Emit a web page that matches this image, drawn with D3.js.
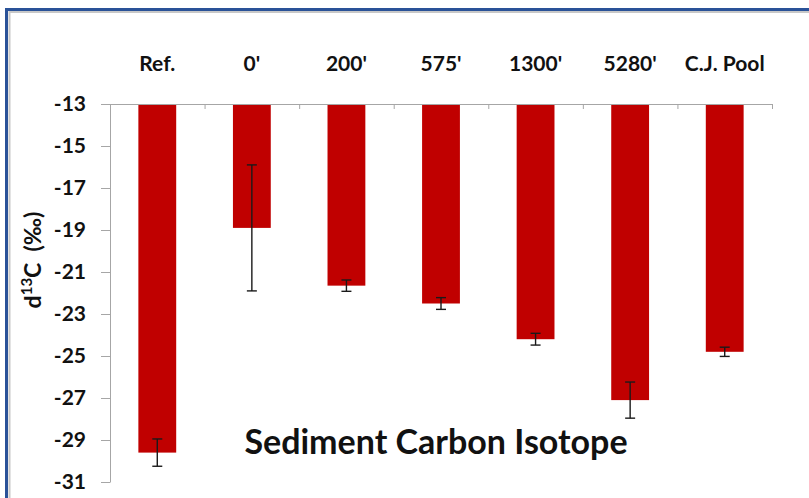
<!DOCTYPE html>
<html>
<head>
<meta charset="utf-8">
<script src="https://cdn.jsdelivr.net/npm/d3@7"></script>
<style>
  body { margin: 0; background: #fff; }
  svg { display: block; }
  .axis path, .axis line { stroke: #a6a6a6; }
  .axis text { fill: #111; font-family: Lato, "Open Sans", sans-serif; }
</style>
</head>
<body>
<div id="chart"></div>
<script>
// sediment d13C by site

const FRAME_WIDTH = 809;
const FRAME_HEIGHT = 498;
const MARGINS = {left: 110, right: 37, top: 104, bottom: 16};

const VIS_WIDTH = FRAME_WIDTH - MARGINS.left - MARGINS.right;
const AXIS_HEIGHT = 378;   // -13 down to -31

// data
const SITES = ["Ref.", "0'", "200'", "575'", "1300'", "5280'", "C.J. Pool"];
const D13C = [-29.6, -18.9, -21.65, -22.5, -24.2, -27.1, -24.8];
const ERR = [0.65, 3.0, 0.27, 0.28, 0.28, 0.86, 0.22];
const Y_TICKS = [-13, -15, -17, -19, -21, -23, -25, -27, -29, -31];

const FRAME = d3.select("#chart")
  .append("svg")
    .attr("width", FRAME_WIDTH)
    .attr("height", FRAME_HEIGHT);

// outer frame
FRAME.append("rect")
  .attr("x", 6.5).attr("y", 9.5)
  .attr("width", FRAME_WIDTH).attr("height", FRAME_HEIGHT)
  .attr("fill", "none")
  .attr("stroke", "#2a5298")
  .attr("stroke-width", 3);
FRAME.append("rect")
  .attr("x", 9.5).attr("y", 12)
  .attr("width", FRAME_WIDTH).attr("height", FRAME_HEIGHT)
  .attr("fill", "none")
  .attr("stroke", "#c8c8c8")
  .attr("stroke-width", 2);

const X_SCALE = d3.scaleBand()
  .domain(SITES)
  .range([0, VIS_WIDTH])
  .paddingInner(0.6)
  .paddingOuter(0.3);

const Y_SCALE = d3.scaleLinear()
  .domain([-31, -13])
  .range([AXIS_HEIGHT, 0]);

const G = FRAME.append("g")
  .attr("transform", "translate(" + MARGINS.left + "," + MARGINS.top + ")");

// bars hang down from -13
G.selectAll(".bar")
  .data(SITES)
  .enter()
  .append("rect")
    .attr("class", "bar")
    .attr("x", (d) => X_SCALE(d))
    .attr("y", Y_SCALE(-13))
    .attr("width", X_SCALE.bandwidth())
    .attr("height", (d, i) => Y_SCALE(D13C[i]) - Y_SCALE(-13))
    .attr("fill", "#c00000");

// error bars
const ERR_G = G.selectAll(".err")
  .data(SITES)
  .enter()
  .append("g")
    .attr("class", "err")
    .attr("stroke", "#1a1a1a")
    .attr("stroke-width", 1.4);

ERR_G.append("line")
  .attr("x1", (d) => X_SCALE(d) + X_SCALE.bandwidth() / 2)
  .attr("x2", (d) => X_SCALE(d) + X_SCALE.bandwidth() / 2)
  .attr("y1", (d, i) => Y_SCALE(D13C[i] + ERR[i]))
  .attr("y2", (d, i) => Y_SCALE(D13C[i] - ERR[i]));

[1, -1].forEach((s) => {
  ERR_G.append("line")
    .attr("x1", (d) => X_SCALE(d) + X_SCALE.bandwidth() / 2 - 5)
    .attr("x2", (d) => X_SCALE(d) + X_SCALE.bandwidth() / 2 + 5)
    .attr("y1", (d, i) => Y_SCALE(D13C[i] + s * ERR[i]))
    .attr("y2", (d, i) => Y_SCALE(D13C[i] + s * ERR[i]));
});

// top axis with site names
G.append("g")
  .attr("class", "axis")
  .call(d3.axisTop(X_SCALE).tickSize(0).tickPadding(33))
  .call((g) => g.select(".domain").remove())
  .selectAll("text")
    .attr("font-size", "21px")
    .attr("font-weight", "bold");

// boundary ticks along the top line
const EDGE_SCALE = d3.scaleLinear().domain([0, SITES.length]).range([0, VIS_WIDTH]);
G.append("g")
  .attr("class", "axis")
  .call(d3.axisBottom(EDGE_SCALE).ticks(SITES.length).tickSize(5).tickSizeOuter(0).tickFormat(""));

// left axis, plain hyphen for the minus
G.append("g")
  .attr("class", "axis")
  .call(d3.axisLeft(Y_SCALE).tickValues(Y_TICKS).tickSize(9).tickSizeOuter(0).tickPadding(15)
    .tickFormat((d) => String(d)))
  .selectAll("text")
    .attr("font-size", "21px")
    .attr("font-weight", "bold");

// y label
const Y_LABEL = FRAME.append("text")
  .attr("transform", "translate(41,260) rotate(-90)")
  .attr("text-anchor", "middle")
  .attr("font-family", "Lato, 'Open Sans', sans-serif")
  .attr("font-weight", "bold")
  .attr("font-size", "23px")
  .attr("fill", "#111");
Y_LABEL.append("tspan").text("d");
Y_LABEL.append("tspan").attr("font-size", "15px").attr("dy", "-9").text("13");
Y_LABEL.append("tspan").attr("dy", "9").text("C\u00a0\u00a0(\u2030)");

// title
FRAME.append("text")
  .attr("x", 436)
  .attr("y", 454)
  .attr("text-anchor", "middle")
  .attr("font-family", "Lato, 'Open Sans', sans-serif")
  .attr("font-weight", "bold")
  .attr("font-size", "34px")
  .attr("fill", "#111")
  .text("Sediment Carbon Isotope");
</script>
</body>
</html>
